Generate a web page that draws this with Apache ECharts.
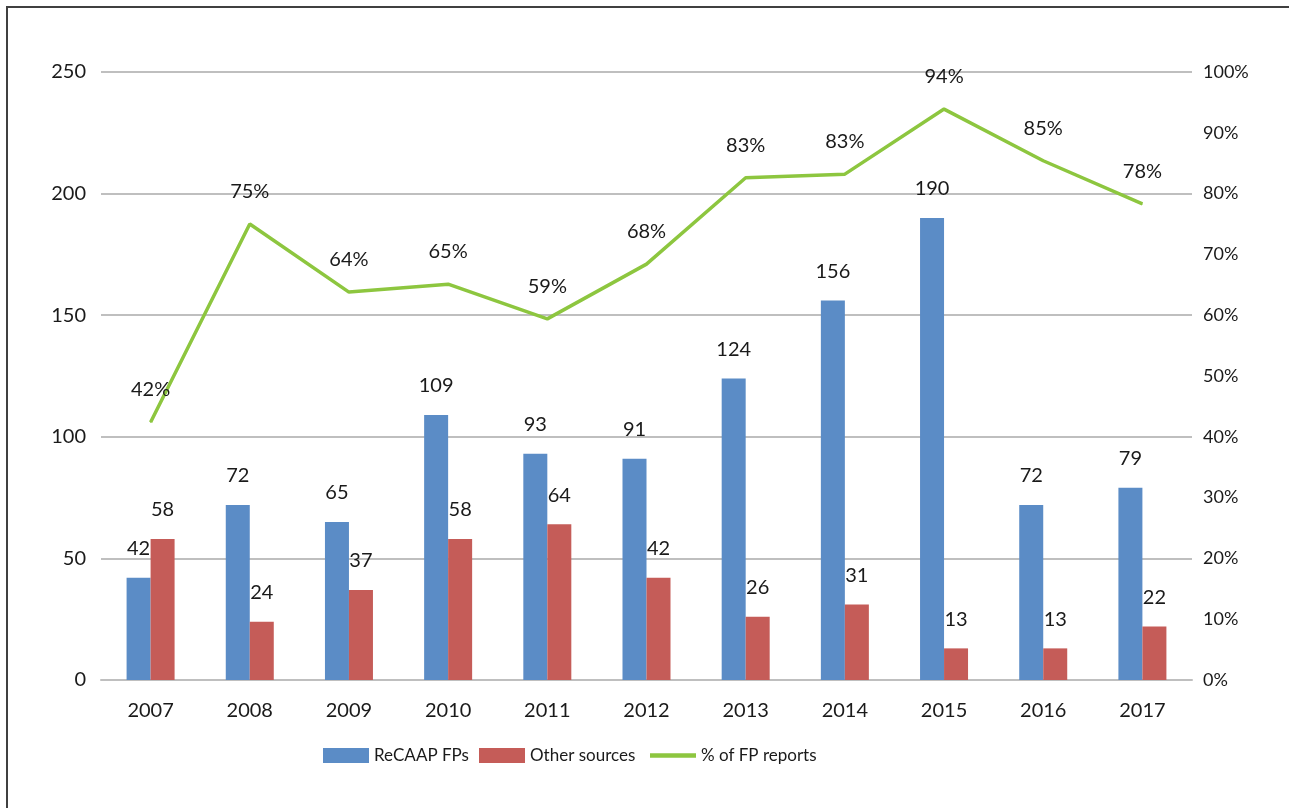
<!DOCTYPE html>
<html>
<head>
<meta charset="utf-8">
<script src="https://cdn.jsdelivr.net/npm/echarts@6/dist/echarts.min.js"></script>
<style>
	html, body { margin: 0; padding: 0; background: #fff; }
	#wrap { position: relative; width: 1289px; height: 808px; overflow: hidden; }
	#main { width: 1289px; height: 808px; }
	#frame { position: absolute; left: 6px; top: 6px; width: 1400px; height: 900px;
		border-left: 2px solid #404040; border-top: 2px solid #404040; pointer-events: none; }
</style>
</head>
<body>
<div id="wrap">
	<div id="main"></div>
	<div id="frame"></div>
</div>
<script>
// data
var years = ['2007', '2008', '2009', '2010', '2011', '2012', '2013', '2014', '2015', '2016', '2017'];
var recaapFPs = [42, 72, 65, 109, 93, 91, 124, 156, 190, 72, 79];
var otherSources = [58, 24, 37, 58, 64, 42, 26, 31, 13, 13, 22];
var fpShare = [42.4, 75.0, 63.8, 65.1, 59.4, 68.4, 82.6, 83.2, 93.9, 85.4, 78.3];
var seriesNames = ['ReCAAP FPs', 'Other sources', '% of FP reports'];

var font = 'Lato, "Noto Sans", sans-serif';
var txt = '#1a1a1a';

// one legend per item so each icon sits where it is in the original
function legendAt(name, left, icon) {
	return {
		top : 747,
		left : left,
		padding : 0,
		itemWidth : 46,
		itemHeight : 15,
		itemGap : 6,
		textStyle : { fontSize : 17, color : txt, fontFamily : font },
		data : [ { name : name, icon : icon } ]
	};
}

var myChart = echarts.init(document.getElementById('main'));
var option = {
	animation : false,
	textStyle : { fontFamily : font },
	legend : [
		legendAt(seriesNames[0], 323, 'rect'),
		legendAt(seriesNames[1], 479, 'rect'),
		legendAt(seriesNames[2], 650, 'path://M0,0H42V4H0Z')
	],
	grid : { left : 101, right : 97, top : 72, bottom : 128 },
	xAxis : [ {
		type : 'category',
		data : years,
		axisTick : { show : false },
		axisLine : { lineStyle : { color : '#bfbfbf', width : 2 } },
		axisLabel : { fontSize : 20, color : txt, margin : 21 }
	} ],
	yAxis : [ {
		type : 'value',
		min : 0, max : 250, interval : 50,
		axisLine : { show : false },
		axisTick : { show : false },
		axisLabel : { fontSize : 20, color : txt, margin : 15 },
		splitLine : { lineStyle : { color : '#bfbfbf', width : 2 } }
	}, {
		type : 'value',
		min : 0, max : 100, interval : 10,
		axisLine : { show : false },
		axisTick : { show : false },
		axisLabel : { fontSize : 18, color : txt, margin : 11, formatter : '{value}%' },
		splitLine : { show : false }
	} ],
	series : [ {
		name : seriesNames[0],
		type : 'bar',
		data : recaapFPs,
		barWidth : 24,
		barGap : '0%',
		itemStyle : { color : '#5b8cc6' },
		label : { show : true, position : 'top', distance : 19, fontSize : 20, color : txt }
	}, {
		name : seriesNames[1],
		type : 'bar',
		data : otherSources,
		barWidth : 24,
		barGap : '0%',
		itemStyle : { color : '#c55c58' },
		label : { show : true, position : 'top', distance : 19, fontSize : 20, color : txt }
	}, {
		name : seriesNames[2],
		type : 'line',
		yAxisIndex : 1,
		data : fpShare,
		symbol : 'circle',
		symbolSize : 1,
		showSymbol : true,
		lineStyle : { color : '#8dc63f', width : 3.5 },
		itemStyle : { color : '#8dc63f' },
		label : {
			show : true, position : 'top', distance : 22, fontSize : 20, color : txt,
			formatter : function(p) { return Math.round(p.value) + '%'; }
		}
	} ]
};
myChart.setOption(option);
</script>
</body>
</html>
